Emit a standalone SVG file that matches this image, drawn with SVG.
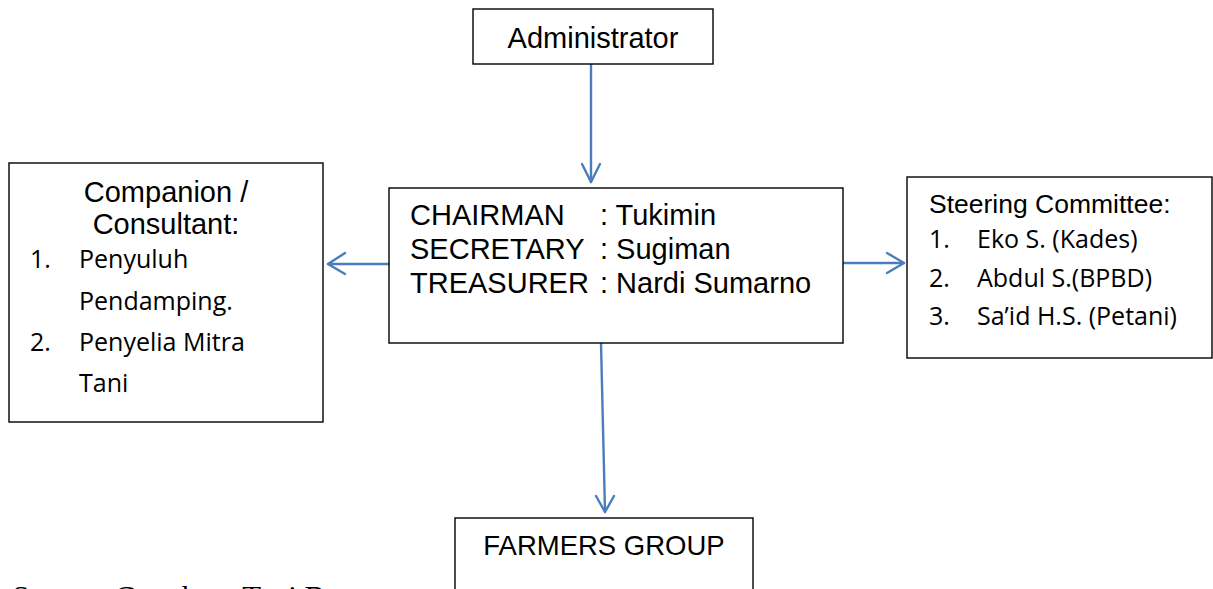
<svg xmlns="http://www.w3.org/2000/svg" width="1213" height="589" viewBox="0 0 1213 589">
  <defs>
    <style>
      .box { fill: #ffffff; stroke: #000000; stroke-width: 1.4; }
      .link { fill: none; stroke: #4a7ebb; stroke-width: 2.4; stroke-linecap: round; stroke-linejoin: round; }
      .sans { font-family: "Liberation Sans", Arial, sans-serif; fill: #000000; }
      .body { font-family: "Open Sans", "Noto Sans", sans-serif; font-size: 25px; fill: #000000; }
      .note { font-family: "Liberation Serif", "Times New Roman", serif; font-size: 31px; fill: #000000; }
    </style>
  </defs>

  <rect width="1213" height="589" fill="#ffffff"/>

  <!-- Connectors: straight blue lines with open chevron heads -->
  <g id="connectors">
    <path class="link" d="M591 64 L591 182"/>
    <path class="link" d="M582 164 L591 182 L600 164"/>

    <path class="link" d="M389 264 L328 264"/>
    <path class="link" d="M345 253 L328 264 L345 274"/>

    <path class="link" d="M843 263 L904 263"/>
    <path class="link" d="M887 253 L904 263 L887 273"/>

    <path class="link" d="M601 343 L605 512"/>
    <path class="link" d="M596 496 L605 512 L614 496"/>
  </g>

  <!-- Top node -->
  <g id="administrator">
    <rect class="box" x="473" y="9" width="240" height="55"/>
    <text class="sans" x="593" y="48" font-size="29" text-anchor="middle">Administrator</text>
  </g>

  <!-- Board of officers -->
  <g id="board">
    <rect class="box" x="389" y="188" width="454" height="155"/>
    <g class="sans" font-size="29">
      <text x="410" y="225">CHAIRMAN</text>
      <text x="600" y="225">: Tukimin</text>
      <text x="410" y="259">SECRETARY</text>
      <text x="600" y="259">: Sugiman</text>
      <text x="410" y="293">TREASURER</text>
      <text x="600" y="293">: Nardi Sumarno</text>
    </g>
  </g>

  <!-- Advisors on the left -->
  <g id="companion">
    <rect class="box" x="9" y="163" width="314" height="259"/>
    <g class="sans" font-size="29" text-anchor="middle">
      <text x="166" y="202">Companion /</text>
      <text x="166" y="234">Consultant:</text>
    </g>
    <g class="body">
      <text x="30" y="268">1.</text>
      <text x="79" y="268">Penyuluh</text>
      <text x="79" y="309.5">Pendamping.</text>
      <text x="30" y="351">2.</text>
      <text x="79" y="351">Penyelia Mitra</text>
      <text x="79" y="392">Tani</text>
    </g>
  </g>

  <!-- Steering committee on the right -->
  <g id="steering">
    <rect class="box" x="907" y="177" width="305" height="181"/>
    <text class="sans" x="929" y="213" font-size="26.5">Steering Committee:</text>
    <g class="body">
      <text x="929" y="248">1.</text>
      <text x="977" y="248">Eko S. (Kades)</text>
      <text x="929" y="286.5">2.</text>
      <text x="977" y="286.5">Abdul S.(BPBD)</text>
      <text x="929" y="325">3.</text>
      <text x="977" y="325">Sa’id H.S. (Petani)</text>
    </g>
  </g>

  <!-- Bottom node, running off the lower edge -->
  <g id="farmers-group">
    <rect class="box" x="455" y="518" width="298" height="100"/>
    <text class="sans" x="604" y="555" font-size="27.5" text-anchor="middle">FARMERS GROUP</text>
  </g>

  <!-- Source line, cut by the lower edge -->
  <text class="note" x="12" y="608">Source: Gapoktan Tani B</text>
</svg>
